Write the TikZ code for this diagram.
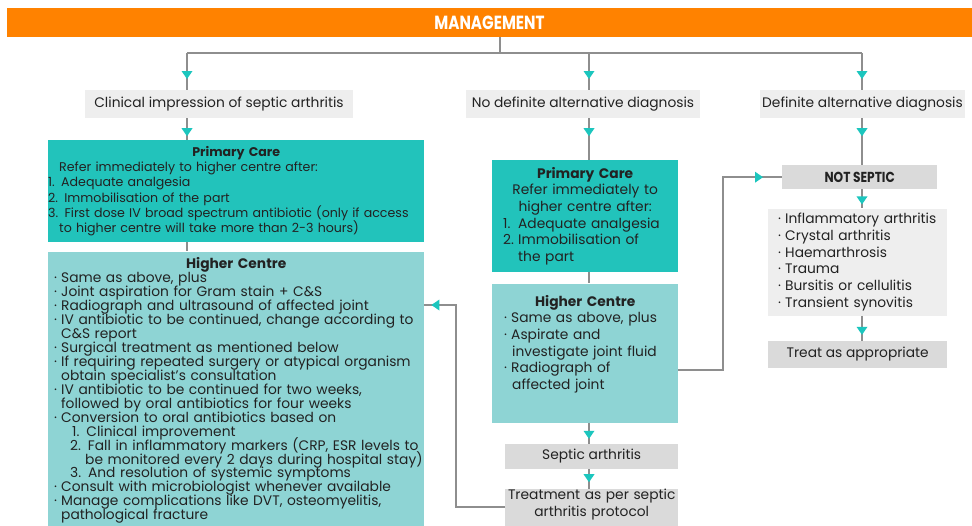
\documentclass[tikz,border=0pt]{standalone}
\usepackage{fontspec}
\setmainfont{Poppins}
\usetikzlibrary{positioning, decorations.markings}

\definecolor{mgmtorange}{HTML}{FF8200}
\definecolor{careteal}{HTML}{22C3BB}
\definecolor{centreteal}{HTML}{8ED4D4}
\definecolor{paleg}{HTML}{EEEEEE}
\definecolor{midg}{HTML}{DADADA}
\definecolor{lineg}{HTML}{8E8E8E}
\definecolor{tipteal}{HTML}{1CC6BE}
\definecolor{inkc}{HTML}{222222}

\newcommand{\bul}{\makebox[7pt][l]{\textperiodcentered}}
\newcommand{\tightlines}{\lineskiplimit=-20pt\lineskip=0pt\relax}

\begin{document}
\begin{tikzpicture}[x=1pt, y=-1pt, text=inkc,
  font=\fontsize{13.8}{13.95}\selectfont\tightlines,
  banner/.style={fill=mgmtorange, text=white, minimum width=965pt, minimum height=29pt,
    inner sep=0pt, font=\fontsize{19}{19}\selectfont\bfseries},
  pale box/.style={fill=paleg, minimum height=28pt, inner sep=0pt, align=center},
  grey box/.style={fill=midg, inner sep=0pt, align=center, font=\fontsize{13.8}{16.7}\selectfont\tightlines},
  care box/.style={fill=careteal, inner sep=0pt},
  centre box/.style={fill=centreteal, inner sep=0pt},
  link/.style={draw=lineg, line width=2pt},
  flow/.style={link, postaction={decorate, decoration={markings,
    mark=at position #1 with {\fill[tipteal] (1pt,0pt) -- (-7pt,5.5pt) -- (-7pt,-5.5pt) -- cycle;}}}}]

  \fill[white] (0,0) rectangle (972,525);
  \useasboundingbox (0,0) rectangle (972,525);

  % banner and first level
  \node[banner] (mgmt) at (489.5,22.5) {\scalebox{0.8}[1]{MANAGEMENT}};
  \node[pale box, minimum width=268pt] (clin) at (219,104) {Clinical impression of septic arthritis};
  \node[pale box, minimum width=234pt] (nodef) at (583,104) {No definite alternative diagnosis};
  \node[pale box, minimum width=205pt] (defalt) at (862.5,104) {Definite alternative diagnosis};

  \coordinate (hub) at (500,53);
  \coordinate (jl) at (187,53);
  \coordinate (jm) at (589,53);
  \coordinate (jr) at (862,53);

  % left column
  \node[care box, anchor=north west, text width=376pt, minimum height=102pt,
    font=\fontsize{12.6}{15.2}\selectfont\tightlines] (pc1) at (48,140) {%
    \centering\textbf{Primary Care}\par\raggedright
    \hspace*{11pt}Refer immediately to higher centre after:\\
    1. Adequate analgesia\\
    2. Immobilisation of the part\\
    3. First dose IV broad spectrum antibiotic (only if access\\
    \hspace*{11pt}to higher centre will take more than 2-3 hours)};
  \node[centre box, below=9pt of pc1, text width=376pt, minimum height=282pt] (hc1) {%
    \centering\textbf{Higher Centre}\par\raggedright
    \hspace*{6pt}\bul Same as above, plus\\
    \hspace*{6pt}\bul Joint aspiration for Gram stain + C\&S\\
    \hspace*{6pt}\bul Radiograph and ultrasound of affected joint\\
    \hspace*{6pt}\bul IV antibiotic to be continued, change according to\\
    \hspace*{13pt}C\&S report\\
    \hspace*{6pt}\bul Surgical treatment as mentioned below\\
    \hspace*{6pt}\bul If requiring repeated surgery or atypical organism\\
    \hspace*{13pt}obtain specialist's consultation\\
    \hspace*{6pt}\bul IV antibiotic to be continued for two weeks,\\
    \hspace*{13pt}followed by oral antibiotics for four weeks\\
    \hspace*{6pt}\bul Conversion to oral antibiotics based on\\
    \hspace*{24pt}1. Clinical improvement\\
    \hspace*{22pt}2. Fall in inflammatory markers (CRP, ESR levels to\\
    \hspace*{37pt}be monitored every 2 days during hospital stay)\\
    \hspace*{22pt}3. And resolution of systemic symptoms\\
    \hspace*{6pt}\bul Consult with microbiologist whenever available\\
    \hspace*{6pt}\bul Manage complications like DVT, osteomyelitis,\\
    \hspace*{13pt}pathological fracture\par\vspace*{4pt}};

  % middle column
  \node[care box, anchor=north west, text width=186pt, minimum height=112pt,
    font=\fontsize{13.8}{16.7}\selectfont\tightlines] (pc2) at (492,160) {%
    \centering\textbf{Primary Care}\\Refer immediately to\\higher centre after:\par\raggedright
    \hspace*{11pt}\makebox[15pt][l]{1.}Adequate analgesia\\
    \hspace*{11pt}\makebox[15pt][l]{2.}Immobilisation of\\
    \hspace*{26pt}the part};
  \node[centre box, below=11pt of pc2, text width=186pt, minimum height=139pt,
    font=\fontsize{13.8}{16.7}\selectfont\tightlines] (hc2) {%
    \centering\textbf{Higher Centre}\par\raggedright
    \hspace*{12pt}\bul Same as above, plus\\
    \hspace*{12pt}\bul Aspirate and\\
    \hspace*{20pt}investigate joint fluid\\
    \hspace*{12pt}\bul Radiograph of\\
    \hspace*{20pt}affected joint\par\vspace*{18pt}};
  \node[grey box, below=21pt of hc2.south east, anchor=north east, minimum width=173pt,
    minimum height=25pt] (septic) {Septic arthritis};
  \node[grey box, below=20pt of septic, minimum width=173pt, minimum height=40pt,
    text width=173pt] (protocol) {Treatment as per septic\\arthritis protocol\\[-2pt]\mbox{}};

  % right column
  \node[grey box, anchor=north west, minimum width=155pt, minimum height=24pt,
    font=\fontsize{14.5}{14.5}\selectfont\bfseries] (ns) at (782,165) {\scalebox{0.84}[1]{NOT SEPTIC}};
  \node[pale box, below=19pt of ns, xshift=-2pt, text width=179pt, minimum height=107pt,
    align=left, font=\fontsize{13.8}{16.7}\selectfont\tightlines] (others) {%
    \hspace*{10pt}\bul Inflammatory arthritis\\
    \hspace*{10pt}\bul Crystal arthritis\\
    \hspace*{10pt}\bul Haemarthrosis\\
    \hspace*{10pt}\bul Trauma\\
    \hspace*{10pt}\bul Bursitis or cellulitis\\
    \hspace*{10pt}\bul Transient synovitis};
  \node[grey box, below=25pt of others, minimum width=179pt, minimum height=27pt] (treatapp) {Treat as appropriate};

  \coordinate (bend1) at (456,305);
  \coordinate (bend2) at (723,370);

  % connectors
  \draw[link] (mgmt.south -| hub) -- (hub);
  \draw[link] (jl) -- (jr);
  \draw[flow=25pt] (jl) -- (jl |- clin.north);
  \draw[flow=25pt] (jm) -- (jm |- nodef.north);
  \draw[flow=25pt] (jr) -- (jr |- defalt.north);
  \draw[flow=17pt] (jl |- clin.south) -- (jl |- pc1.north);
  \draw[link] (jl |- pc1.south) -- (jl |- hc1.north);
  \draw[flow=17pt] (jm |- nodef.south) -- (jm |- pc2.north);
  \draw[link] (jm |- pc2.south) -- (jm |- hc2.north);
  \draw[flow=15pt] (jm |- hc2.south) -- (jm |- septic.north);
  \draw[flow=12pt] (jm |- septic.south) -- (jm |- protocol.north);
  \draw[flow=17pt] (jr |- defalt.south) -- (jr |- ns.north);
  \draw[flow=14pt] (jr |- ns.south) -- (jr |- others.north);
  \draw[flow=18pt] (jr |- others.south) -- (jr |- treatapp.north);
  \draw[flow=-8pt] (protocol.west |- 0,507) -| (bend1) -- (hc1.east |- bend1);
  \draw[flow=-20pt] (hc2.east |- bend2) -- (bend2) |- (ns.west);
\end{tikzpicture}
\end{document}
